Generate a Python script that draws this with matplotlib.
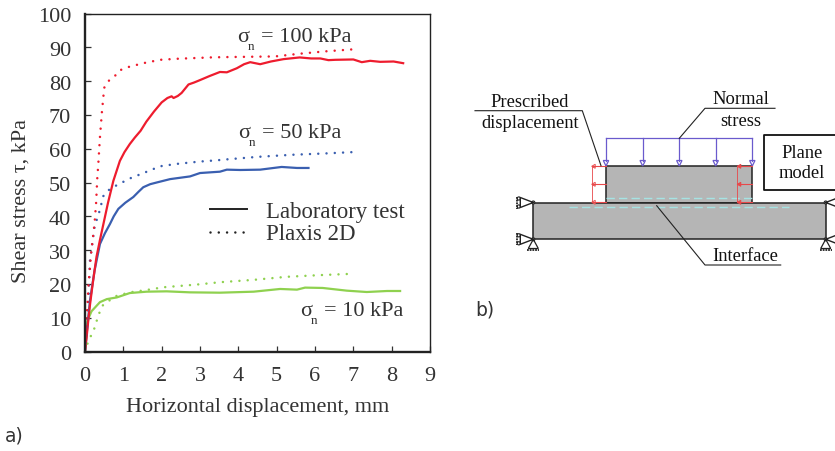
import matplotlib
matplotlib.use("Agg")
import matplotlib.pyplot as plt
from matplotlib.patches import Rectangle, Polygon, Circle
from matplotlib.transforms import ScaledTranslation

W, H = 835, 452
SERIF = "Liberation Serif"
TXT = "#333333"
FS = 16

# ---- data ----
x_ticks = list(range(0, 10))
y_ticks = list(range(0, 101, 10))

red_lab_x = [0, .04, .11, .2, .3, .39, .48, .6, .74, .91, 1.03, 1.17, 1.3, 1.45, 1.6, 1.8, 2.0, 2.15, 2.26, 2.31, 2.42, 2.52, 2.7, 2.85, 3.0, 3.25, 3.52, 3.7, 3.96, 4.15, 4.31, 4.57, 4.85, 5.18, 5.6, 5.9, 6.14, 6.35, 6.53, 7.0, 7.22, 7.44, 7.7, 8.05, 8.3]
red_lab_y = [0, 4, 12, 20, 28, 33, 37.7, 44, 50.5, 56.4, 59, 61.4, 63.3, 65.3, 68, 71, 73.7, 75, 75.5, 75, 75.6, 76.5, 79, 79.6, 80.3, 81.5, 82.7, 82.6, 83.8, 85, 85.6, 85, 85.8, 86.5, 87, 86.7, 86.7, 86.2, 86.3, 86.4, 85.6, 86, 85.7, 85.8, 85.3]
blue_lab_x = [0, .05, .13, .25, .39, .52, .65, .75, .87, 1.05, 1.26, 1.4, 1.52, 1.7, 1.87, 2.22, 2.74, 3.0, 3.52, 3.7, 4.05, 4.57, 5.13, 5.53, 5.83]
blue_lab_y = [0, 6, 15, 24, 31.8, 35, 37.7, 40, 42.2, 44, 45.7, 47.3, 48.6, 49.5, 50, 51, 51.8, 52.8, 53.2, 53.8, 53.7, 53.8, 54.6, 54.3, 54.3]
green_lab_x = [0, .06, .17, .39, .57, .83, 1.17, 1.61, 2.13, 2.74, 3.52, 4.4, 5.09, 5.53, 5.74, 6.2, 6.83, 7.35, 7.88, 8.22]
green_lab_y = [0, 9, 11.9, 14.6, 15.5, 16, 17.3, 17.7, 17.8, 17.5, 17.4, 17.7, 18.5, 18.3, 18.9, 18.8, 18, 17.6, 17.9, 17.9]

red_fem_x = [0, .09, .16, .25, .29, .32, .35, .39, .44, .48, .5, .61, .77, .91, 1.11, 1.52, 1.96, 2.39, 3.26, 3.65, 4.96, 5.6, 6.27, 7.0]
red_fem_y = [0, 19.5, 29.1, 38, 44, 51.2, 56, 63.4, 70.7, 75.5, 78, 80, 81.4, 83.2, 84.1, 85.3, 86.3, 86.6, 87, 87.1, 87.3, 88.1, 88.8, 89.4]
blue_fem_x = [0, .09, .13, .25, .37, .48, .61, .78, 1.17, 1.57, 1.96, 2.39, 3.0, 3.47, 3.65, 4.52, 5.4, 6.27, 7.0]
blue_fem_y = [0, 14.6, 26.9, 37, 41.2, 46, 47.7, 48.9, 51.2, 53, 54.8, 55.5, 56.2, 56.6, 56.8, 57.6, 58.2, 58.6, 59]
green_fem_x = [0, .06, .15, .24, .3, .37, .46, .78, 1.17, 1.61, 2.04, 2.91, 3.35, 3.52, 4.4, 5.26, 6.13, 7.0]
green_fem_y = [0, 2.2, 4.5, 6.7, 8.9, 11.3, 13.6, 16.3, 17.5, 18.2, 19, 19.8, 20.3, 20.5, 21.2, 22.1, 22.6, 23]

RED, BLUE, GREEN = "#ee1c2e", "#3a5fb0", "#8fd14f"
DOT = (0, (0.01, 3.3))

fig = plt.figure(figsize=(W / 100, H / 100), dpi=100)
ax = fig.add_axes([85 / W, 1 - 352.5 / H, 345 / W, 338 / H])
for xs, ys, c in [(green_lab_x, green_lab_y, GREEN), (blue_lab_x, blue_lab_y, BLUE), (red_lab_x, red_lab_y, RED)]:
    ax.plot(xs, ys, color=c, lw=1.6, solid_joinstyle="round")
for xs, ys, c in [(green_fem_x, green_fem_y, GREEN), (blue_fem_x, blue_fem_y, BLUE), (red_fem_x, red_fem_y, RED)]:
    ax.plot(xs, ys, color=c, lw=1.8, linestyle=DOT, dash_capstyle="round")
ax.set_xlim(0, 9)
ax.set_ylim(0, 100)
ax.set_xticks(x_ticks)
ax.set_yticks(y_ticks)
ax.tick_params(direction="in", length=4.5, width=0.9, color="#333333", labelcolor=TXT,
               labelsize=FS, pad=10.5)
ax.tick_params(axis="y", pad=10)
shift = ScaledTranslation(0, -0.5 / 100, fig.dpi_scale_trans)
for lab in ax.get_yticklabels():
    lab.set_transform(lab.get_transform() + shift)
for lab in ax.get_xticklabels() + ax.get_yticklabels():
    lab.set_fontfamily(SERIF)
for s, lw in [("left", 1.7), ("bottom", 1.7), ("top", 1.0), ("right", 1.0)]:
    ax.spines[s].set_linewidth(lw)
    ax.spines[s].set_color("#222222")
ax.set_xlabel("Horizontal displacement, mm", fontsize=FS, family=SERIF, color=TXT, labelpad=8.5)
ax.set_ylabel("Shear stress τ, kPa", fontsize=FS, family=SERIF, color=TXT)
ax.yaxis.set_label_coords((31 - 85) / 345, (352.5 - 201) / 338)

# ---- overlay in pixel space for annotations and panel b ----
o = fig.add_axes([0, 0, 1, 1], facecolor="none")
o.set_xlim(0, W)
o.set_ylim(H, 0)
o.axis("off")

def t(x, y, s, size=FS, ha="left", fam=SERIF, c=TXT):
    o.text(x, y, s, fontsize=size, ha=ha, va="center", family=fam, color=c)

for px, py, val in [(237, 38, "= 100 kPa"), (238, 134, "= 50 kPa"), (300, 312, "= 10 kPa")]:
    t(px, py, "σ")
    t(px + 11, py + 9, "n", size=9.5)
    t(px + 24, py, val)

o.plot([210, 247], [210, 210], color="#222222", lw=1.4)
o.plot([210, 247], [233, 233], color="#222222", lw=1.8, linestyle=DOT, dash_capstyle="round")
t(266, 213, "Laboratory test", size=16.4)
t(266, 235, "Plaxis 2D", size=16.4)
t(5, 436, "a)", size=13.5, fam="DejaVu Sans")
t(475, 310, "b)", size=13.5, fam="DejaVu Sans")

# panel b
GREY = "#b5b5b5"
PURPLE = "#6a5acd"
PINK = "#e8484a"
CYAN = "#a5e3e3"
o.add_patch(Rectangle((606, 167.3), 146.3, 36.2, fc=GREY, ec="#222222", lw=1.1))
o.add_patch(Rectangle((533.3, 203.5), 292.4, 36.8, fc=GREY, ec="#222222", lw=1.1))
o.plot([606, 752.3], [199.3, 199.3], color=CYAN, lw=1, linestyle=(0, (6, 3)))
o.plot([569, 789.3], [207.7, 207.7], color=CYAN, lw=1, linestyle=(0, (6, 3)))

o.plot([606, 752.3], [139.3, 139.3], color=PURPLE, lw=0.9)
for x in [606, 642.7, 679.3, 715.7, 752.3]:
    o.plot([x, x], [139.3, 162], color=PURPLE, lw=0.9)
    o.add_patch(Polygon([(x - 2.7, 161.5), (x + 2.7, 161.5), (x, 167)], fc="white", ec=PURPLE, lw=0.9))

for x0, x1 in [(606, 591.7), (752.3, 737.3)]:
    o.plot([x1, x1], [167, 203.3], color=PINK, lw=0.6)
    for y in [167.3, 185.3, 203.3]:
        o.plot([x0, x1], [y, y], color=PINK, lw=0.8)
        o.add_patch(Polygon([(x1, y), (x1 + 3.5, y - 2), (x1 + 3.5, y + 2)], fc="white" if x1 < 600 else PINK, ec=PINK, lw=0.7))

LK = "#222222"
o.plot([475, 582.3, 601], [111.7, 111.7, 166.7], color=LK, lw=0.8)
o.plot([679.3, 705, 775], [139.3, 109.3, 109.3], color=LK, lw=0.8)
o.plot([656.7, 705, 780.7], [206.7, 266, 266], color=LK, lw=0.8)
o.plot([835, 764, 764, 835], [136, 136, 190.7, 190.7], color="#111111", lw=1.3)

DG = "#111111"
for cx, cy, txt in [(530, 102.5, "Prescribed"), (530, 123.7, "displacement"), (740.7, 100, "Normal"),
                    (740.7, 121.3, "stress"), (801.7, 153.7, "Plane"), (801.7, 173.7, "model"),
                    (745, 257, "Interface")]:
    t(cx, cy, txt, size=13.3, ha="center", c=DG)

def support(x, y, d):
    o.plot([x, x - d * 13, x - d * 13, x], [y, y - 5, y + 5, y], color=LK, lw=1.0)
    o.add_patch(Circle((x, y), 1.5, fc="white", ec=LK, lw=0.8))
    for dy in (-4, 4):
        o.add_patch(Circle((x - d * 14.5, y + dy), 1.6, fc="white", ec=LK, lw=0.8))
    o.plot([x - d * 16.5, x - d * 16.5], [y - 6, y + 6], color=LK, lw=1.3, linestyle=(0, (1, 0.5)))

for x, d in [(533.3, 1), (825.7, -1)]:
    for y in (203.5, 240.3):
        support(x, y, d)
    o.add_patch(Polygon([(x, 240.3), (x - 5, 249.5), (x + 5, 249.5)], fc="none", ec=LK, lw=0.9))
    o.plot([x - 6, x + 6], [250.5, 250.5], color=LK, lw=1.3, linestyle=(0, (1, 0.5)))

fig.savefig("out.png", dpi=100)
